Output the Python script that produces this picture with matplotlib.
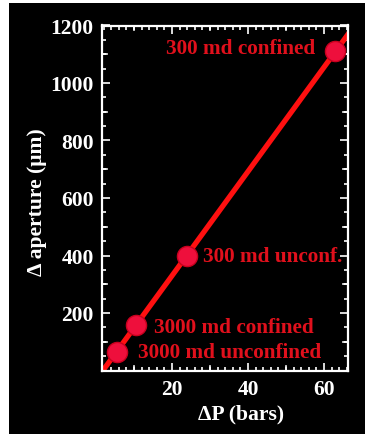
import matplotlib
matplotlib.use("Agg")
import matplotlib.pyplot as plt
import numpy as np
from matplotlib.ticker import MultipleLocator

# data
dp = [5.5, 10.5, 24.0, 63.0]
aperture = [65, 160, 400, 1110]
labels = ["3000 md unconfined", "3000 md confined", "300 md unconf.", "300 md confined"]
label_pos = [(11.0, 66), (15.3, 153), (28.2, 397), (57.6, 1120)]
label_ha = ["left", "left", "left", "right"]
xlim = (1.6, 66.3)
ylim = (0, 1200)
xticks = [20, 40, 60]
yticks = [200, 400, 600, 800, 1000, 1200]

plt.rcParams['font.family'] = ['Liberation Serif', 'DejaVu Serif']
plt.rcParams['font.weight'] = 'bold'

W, H = 365, 435
fig = plt.figure(figsize=(W/100, H/100), dpi=100, facecolor='white')
bg = plt.Rectangle((9/W, 0), 1, 1 - 4/H, transform=fig.transFigure,
                   facecolor='black', edgecolor='none', zorder=-10)
fig.patches.append(bg)

ax = fig.add_axes([102/W, 1 - 371.5/H, (348-102)/W, (371.5-26.5)/H])
ax.set_facecolor('black')

# fit line
coef = np.polyfit(dp, aperture, 1)
xx = np.array(xlim)
ax.plot(xx, np.polyval(coef, xx), color='#ff1010', lw=3.8, zorder=2, clip_on=True)
ax.plot(dp, aperture, 'o', ms=14.5, mfc='#ee0f3c', mec='#c8001e', mew=1.0, zorder=3)

red = '#e0101c'
for t, (x, y), ha in zip(labels, label_pos, label_ha):
    ax.text(x, y, t, color=red, fontsize=15.3, fontweight='bold', ha=ha, va='center')

ax.set_xlim(*xlim)
ax.set_ylim(*ylim)
ax.set_xticks(xticks)
ax.set_yticks(yticks)
ax.xaxis.set_minor_locator(MultipleLocator(2))
ax.yaxis.set_minor_locator(MultipleLocator(50))

for s in ax.spines.values():
    s.set_color('white')
    s.set_linewidth(1.6)

ax.tick_params(which='both', direction='in', colors='white', top=True, right=True,
               labelsize=15.5, width=1.2)
ax.tick_params(which='major', length=6, pad=6)
ax.tick_params(which='minor', length=3)
# extra medium ticks at 10s / 100s
for v in [10, 30, 50]:
    ax.axvline(v, ymin=0, ymax=0.012, color='white', lw=1.2)
    ax.axvline(v, ymin=0.988, ymax=1, color='white', lw=1.2)
for v in [100, 300, 500, 700, 900, 1100]:
    ax.axhline(v, xmin=0, xmax=0.02, color='white', lw=1.2)
    ax.axhline(v, xmin=0.98, xmax=1, color='white', lw=1.2)

for lab in ax.get_xticklabels() + ax.get_yticklabels():
    lab.set_fontweight('bold')
    lab.set_color('white')

ax.set_xlabel("ΔP (bars)", color='white', fontsize=15.6, fontweight='bold')
ax.set_ylabel("Δ aperture (μm)", color='white', fontsize=15.6, fontweight='bold')
ax.xaxis.set_label_coords((241-102)/246, -0.095)
ax.yaxis.set_label_coords((47-102)/246, 0.49)

fig.savefig("out.png", dpi=100, facecolor=fig.get_facecolor())
